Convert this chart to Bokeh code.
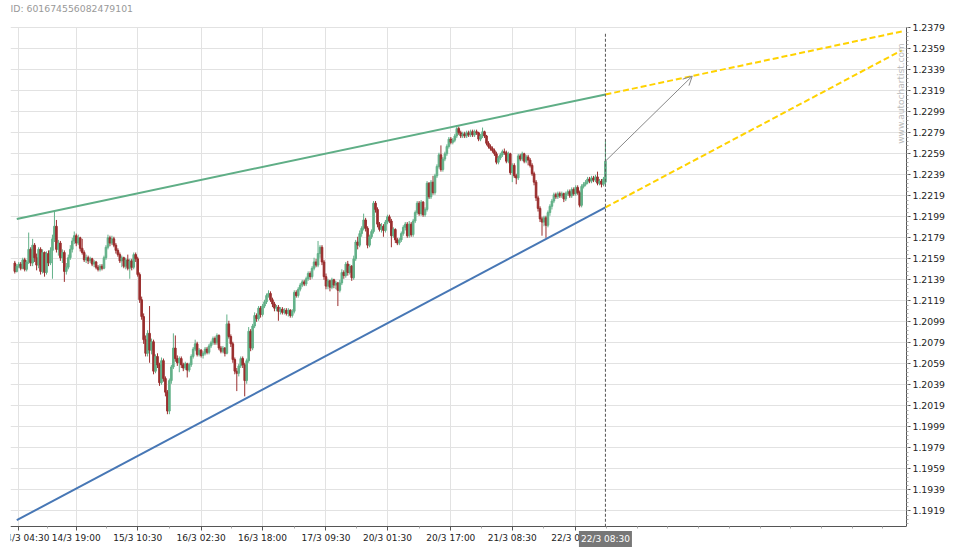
import math
from bokeh.plotting import figure
from bokeh.models import (ColumnDataSource, FixedTicker, Range1d, Label, Arrow,
                          OpenHead, PrintfTickFormatter)
from bokeh.embed import file_html
from bokeh.resources import INLINE

# ---------------- data (30-minute candles, 14/3 03:30 .. 22/3 08:30) ----------------
opens = [
    1.2155, 1.2147, 1.2152, 1.2154, 1.2150, 1.2158, 1.2149, 1.2156, 1.2168, 1.2155,
    1.2172, 1.2160, 1.2153, 1.2168, 1.2147, 1.2165, 1.2146, 1.2164, 1.2155, 1.2167,
    1.2178, 1.2190, 1.2168, 1.2174, 1.2160, 1.2165, 1.2147, 1.2151, 1.2160, 1.2168,
    1.2176, 1.2181, 1.2174, 1.2179, 1.2169, 1.2165, 1.2158, 1.2160, 1.2157, 1.2159,
    1.2154, 1.2156, 1.2151, 1.2149, 1.2152, 1.2150, 1.2160, 1.2170, 1.2179, 1.2174,
    1.2178, 1.2172, 1.2167, 1.2163, 1.2157, 1.2160, 1.2152, 1.2158, 1.2150, 1.2157,
    1.2151, 1.2163, 1.2159, 1.2144, 1.2120, 1.2104, 1.2082, 1.2069, 1.2088, 1.2072,
    1.2080, 1.2052, 1.2066, 1.2058, 1.2041, 1.2062, 1.2045, 1.2032, 1.2014, 1.2043,
    1.2056, 1.2074, 1.2064, 1.2060, 1.2064, 1.2058, 1.2055, 1.2059, 1.2053, 1.2058,
    1.2066, 1.2073, 1.2078, 1.2068, 1.2072, 1.2067, 1.2069, 1.2073, 1.2070, 1.2076,
    1.2079, 1.2083, 1.2079, 1.2086, 1.2074, 1.2071, 1.2074, 1.2069, 1.2097, 1.2085,
    1.2078, 1.2063, 1.2052, 1.2050, 1.2057, 1.2064, 1.2058, 1.2043, 1.2062, 1.2090,
    1.2074, 1.2095, 1.2105, 1.2102, 1.2112, 1.2106, 1.2114, 1.2118, 1.2124, 1.2126,
    1.2120, 1.2116, 1.2112, 1.2113, 1.2109, 1.2111, 1.2108, 1.2110, 1.2107, 1.2110,
    1.2105, 1.2109, 1.2127, 1.2124, 1.2130, 1.2134, 1.2137, 1.2135, 1.2140, 1.2145,
    1.2142, 1.2150, 1.2156, 1.2153, 1.2164, 1.2170, 1.2156, 1.2142, 1.2133, 1.2138,
    1.2132, 1.2139, 1.2134, 1.2136, 1.2129, 1.2136, 1.2146, 1.2143, 1.2154, 1.2146,
    1.2152, 1.2141, 1.2159, 1.2175, 1.2172, 1.2183, 1.2188, 1.2196, 1.2188, 1.2172,
    1.2180, 1.2185, 1.2212, 1.2206, 1.2192, 1.2187, 1.2190, 1.2186, 1.2194, 1.2199,
    1.2195, 1.2181, 1.2187, 1.2177, 1.2174, 1.2177, 1.2183, 1.2189, 1.2192, 1.2181,
    1.2192, 1.2182, 1.2195, 1.2203, 1.2212, 1.2202, 1.2213, 1.2201, 1.2206, 1.2231,
    1.2218, 1.2232, 1.2222, 1.2238, 1.2247, 1.2258, 1.2244, 1.2254, 1.2259, 1.2266,
    1.2273, 1.2270, 1.2272, 1.2276, 1.2283, 1.2279, 1.2276, 1.2278, 1.2276, 1.2279,
    1.2277, 1.2280, 1.2277, 1.2280, 1.2279, 1.2273, 1.2276, 1.2280, 1.2276, 1.2269,
    1.2266, 1.2264, 1.2262, 1.2259, 1.2251, 1.2255, 1.2258, 1.2261, 1.2260, 1.2252,
    1.2259, 1.2241, 1.2248, 1.2238, 1.2236, 1.2257, 1.2254, 1.2259, 1.2252, 1.2256,
    1.2253, 1.2248, 1.2240, 1.2232, 1.2217, 1.2207, 1.2197, 1.2194, 1.2198, 1.2191,
    1.2203, 1.2209, 1.2214, 1.2220, 1.2218, 1.2221, 1.2219, 1.2221, 1.2216, 1.2221,
    1.2223, 1.2219, 1.2225, 1.2221, 1.2227, 1.2222, 1.2210, 1.2228, 1.2230, 1.2232,
    1.2235, 1.2233, 1.2236, 1.2234, 1.2237, 1.2231, 1.2233, 1.2230, 1.2232,
]
highs = [
    1.2157, 1.2154, 1.2156, 1.2156, 1.2160, 1.2160, 1.2158, 1.2184, 1.2170, 1.2178,
    1.2174, 1.2164, 1.2170, 1.2170, 1.2168, 1.2166, 1.2166, 1.2167, 1.2170, 1.2182,
    1.2204, 1.2196, 1.2177, 1.2176, 1.2168, 1.2167, 1.2155, 1.2163, 1.2172, 1.2179,
    1.2185, 1.2183, 1.2182, 1.2180, 1.2178, 1.2167, 1.2163, 1.2162, 1.2161, 1.2160,
    1.2158, 1.2157, 1.2153, 1.2154, 1.2154, 1.2162, 1.2172, 1.2182, 1.2181, 1.2181,
    1.2180, 1.2174, 1.2169, 1.2165, 1.2162, 1.2161, 1.2160, 1.2163, 1.2159, 1.2159,
    1.2165, 1.2165, 1.2161, 1.2146, 1.2123, 1.2107, 1.2086, 1.2091, 1.2114, 1.2083,
    1.2082, 1.2068, 1.2069, 1.2060, 1.2065, 1.2064, 1.2047, 1.2034, 1.2045, 1.2058,
    1.2088, 1.2086, 1.2067, 1.2066, 1.2066, 1.2060, 1.2061, 1.2060, 1.2060, 1.2068,
    1.2075, 1.2082, 1.2080, 1.2074, 1.2073, 1.2071, 1.2075, 1.2075, 1.2078, 1.2081,
    1.2085, 1.2085, 1.2088, 1.2087, 1.2076, 1.2076, 1.2075, 1.2106, 1.2100, 1.2087,
    1.2080, 1.2065, 1.2055, 1.2059, 1.2066, 1.2066, 1.2060, 1.2064, 1.2094, 1.2092,
    1.2097, 1.2108, 1.2107, 1.2114, 1.2114, 1.2116, 1.2120, 1.2126, 1.2129, 1.2128,
    1.2122, 1.2118, 1.2115, 1.2115, 1.2113, 1.2113, 1.2112, 1.2112, 1.2112, 1.2111,
    1.2111, 1.2129, 1.2129, 1.2132, 1.2136, 1.2139, 1.2139, 1.2142, 1.2147, 1.2147,
    1.2152, 1.2160, 1.2159, 1.2176, 1.2172, 1.2172, 1.2158, 1.2145, 1.2140, 1.2139,
    1.2141, 1.2140, 1.2138, 1.2137, 1.2139, 1.2149, 1.2148, 1.2156, 1.2157, 1.2154,
    1.2153, 1.2162, 1.2177, 1.2180, 1.2186, 1.2190, 1.2202, 1.2198, 1.2190, 1.2182,
    1.2187, 1.2214, 1.2214, 1.2208, 1.2194, 1.2193, 1.2192, 1.2196, 1.2201, 1.2201,
    1.2197, 1.2189, 1.2188, 1.2179, 1.2179, 1.2185, 1.2191, 1.2194, 1.2194, 1.2195,
    1.2194, 1.2197, 1.2205, 1.2214, 1.2214, 1.2215, 1.2214, 1.2208, 1.2233, 1.2232,
    1.2234, 1.2238, 1.2240, 1.2249, 1.2260, 1.2267, 1.2256, 1.2261, 1.2268, 1.2275,
    1.2275, 1.2274, 1.2278, 1.2286, 1.2285, 1.2281, 1.2280, 1.2280, 1.2281, 1.2281,
    1.2282, 1.2282, 1.2282, 1.2282, 1.2280, 1.2278, 1.2284, 1.2281, 1.2277, 1.2271,
    1.2268, 1.2266, 1.2264, 1.2261, 1.2257, 1.2260, 1.2263, 1.2264, 1.2262, 1.2261,
    1.2260, 1.2250, 1.2250, 1.2240, 1.2259, 1.2259, 1.2261, 1.2260, 1.2258, 1.2258,
    1.2255, 1.2250, 1.2242, 1.2234, 1.2219, 1.2209, 1.2199, 1.2200, 1.2200, 1.2205,
    1.2211, 1.2216, 1.2222, 1.2222, 1.2223, 1.2223, 1.2223, 1.2222, 1.2223, 1.2225,
    1.2225, 1.2227, 1.2227, 1.2229, 1.2229, 1.2224, 1.2230, 1.2232, 1.2234, 1.2237,
    1.2237, 1.2238, 1.2238, 1.2239, 1.2242, 1.2235, 1.2235, 1.2237, 1.2271,
]
lows = [
    1.2145, 1.2146, 1.2150, 1.2148, 1.2149, 1.2147, 1.2147, 1.2154, 1.2152, 1.2152,
    1.2156, 1.2148, 1.2150, 1.2144, 1.2145, 1.2142, 1.2144, 1.2152, 1.2153, 1.2140,
    1.2175, 1.2165, 1.2162, 1.2157, 1.2155, 1.2137, 1.2144, 1.2149, 1.2158, 1.2165,
    1.2173, 1.2171, 1.2172, 1.2166, 1.2163, 1.2156, 1.2155, 1.2154, 1.2155, 1.2152,
    1.2151, 1.2149, 1.2147, 1.2147, 1.2148, 1.2149, 1.2158, 1.2168, 1.2171, 1.2172,
    1.2170, 1.2164, 1.2161, 1.2155, 1.2151, 1.2150, 1.2149, 1.2148, 1.2140, 1.2148,
    1.2149, 1.2156, 1.2142, 1.2117, 1.2101, 1.2078, 1.2066, 1.2066, 1.2060, 1.2068,
    1.2049, 1.2050, 1.2055, 1.2038, 1.2039, 1.2042, 1.2028, 1.2011, 1.2011, 1.2040,
    1.2054, 1.2061, 1.2057, 1.2051, 1.2055, 1.2052, 1.2053, 1.2046, 1.2051, 1.2056,
    1.2064, 1.2071, 1.2066, 1.2066, 1.2065, 1.2064, 1.2067, 1.2068, 1.2068, 1.2074,
    1.2077, 1.2077, 1.2077, 1.2072, 1.2069, 1.2069, 1.2066, 1.2068, 1.2083, 1.2075,
    1.2060, 1.2049, 1.2033, 1.2047, 1.2055, 1.2055, 1.2028, 1.2040, 1.2060, 1.2071,
    1.2072, 1.2093, 1.2099, 1.2100, 1.2103, 1.2104, 1.2112, 1.2116, 1.2122, 1.2118,
    1.2113, 1.2109, 1.2109, 1.2100, 1.2106, 1.2106, 1.2106, 1.2105, 1.2104, 1.2103,
    1.2103, 1.2107, 1.2122, 1.2122, 1.2128, 1.2132, 1.2133, 1.2133, 1.2138, 1.2139,
    1.2140, 1.2148, 1.2151, 1.2151, 1.2160, 1.2153, 1.2139, 1.2130, 1.2130, 1.2128,
    1.2130, 1.2131, 1.2130, 1.2114, 1.2127, 1.2134, 1.2140, 1.2141, 1.2143, 1.2144,
    1.2138, 1.2139, 1.2157, 1.2168, 1.2170, 1.2180, 1.2186, 1.2185, 1.2169, 1.2170,
    1.2178, 1.2183, 1.2203, 1.2189, 1.2185, 1.2184, 1.2180, 1.2184, 1.2192, 1.2193,
    1.2170, 1.2179, 1.2174, 1.2172, 1.2172, 1.2175, 1.2181, 1.2186, 1.2179, 1.2179,
    1.2180, 1.2180, 1.2193, 1.2201, 1.2200, 1.2200, 1.2199, 1.2199, 1.2204, 1.2216,
    1.2216, 1.2220, 1.2220, 1.2236, 1.2245, 1.2242, 1.2242, 1.2252, 1.2257, 1.2264,
    1.2268, 1.2268, 1.2270, 1.2274, 1.2277, 1.2274, 1.2274, 1.2274, 1.2274, 1.2275,
    1.2275, 1.2275, 1.2275, 1.2277, 1.2271, 1.2271, 1.2274, 1.2274, 1.2267, 1.2264,
    1.2262, 1.2260, 1.2257, 1.2249, 1.2249, 1.2253, 1.2256, 1.2258, 1.2250, 1.2250,
    1.2239, 1.2232, 1.2236, 1.2230, 1.2234, 1.2252, 1.2252, 1.2250, 1.2250, 1.2248,
    1.2246, 1.2238, 1.2229, 1.2214, 1.2204, 1.2194, 1.2181, 1.2190, 1.2179, 1.2189,
    1.2200, 1.2206, 1.2212, 1.2216, 1.2216, 1.2217, 1.2217, 1.2213, 1.2214, 1.2219,
    1.2217, 1.2217, 1.2219, 1.2219, 1.2220, 1.2208, 1.2208, 1.2226, 1.2228, 1.2230,
    1.2231, 1.2231, 1.2232, 1.2232, 1.2229, 1.2229, 1.2227, 1.2228, 1.2228,
]
closes = [
    1.2147, 1.2152, 1.2154, 1.2150, 1.2158, 1.2149, 1.2156, 1.2168, 1.2155, 1.2172,
    1.2160, 1.2153, 1.2168, 1.2147, 1.2165, 1.2146, 1.2164, 1.2155, 1.2167, 1.2178,
    1.2190, 1.2168, 1.2174, 1.2160, 1.2165, 1.2147, 1.2151, 1.2160, 1.2168, 1.2176,
    1.2181, 1.2174, 1.2179, 1.2169, 1.2165, 1.2158, 1.2160, 1.2157, 1.2159, 1.2154,
    1.2156, 1.2151, 1.2149, 1.2152, 1.2150, 1.2160, 1.2170, 1.2179, 1.2174, 1.2178,
    1.2172, 1.2167, 1.2163, 1.2157, 1.2160, 1.2152, 1.2158, 1.2150, 1.2157, 1.2151,
    1.2163, 1.2159, 1.2144, 1.2120, 1.2104, 1.2082, 1.2069, 1.2088, 1.2072, 1.2080,
    1.2052, 1.2066, 1.2058, 1.2041, 1.2062, 1.2045, 1.2032, 1.2014, 1.2043, 1.2056,
    1.2074, 1.2064, 1.2060, 1.2064, 1.2058, 1.2055, 1.2059, 1.2053, 1.2058, 1.2066,
    1.2073, 1.2078, 1.2068, 1.2072, 1.2067, 1.2069, 1.2073, 1.2070, 1.2076, 1.2079,
    1.2083, 1.2079, 1.2086, 1.2074, 1.2071, 1.2074, 1.2069, 1.2097, 1.2085, 1.2078,
    1.2063, 1.2052, 1.2050, 1.2057, 1.2064, 1.2058, 1.2043, 1.2062, 1.2090, 1.2074,
    1.2095, 1.2105, 1.2102, 1.2112, 1.2106, 1.2114, 1.2118, 1.2124, 1.2126, 1.2120,
    1.2116, 1.2112, 1.2113, 1.2109, 1.2111, 1.2108, 1.2110, 1.2107, 1.2110, 1.2105,
    1.2109, 1.2127, 1.2124, 1.2130, 1.2134, 1.2137, 1.2135, 1.2140, 1.2145, 1.2142,
    1.2150, 1.2156, 1.2153, 1.2164, 1.2170, 1.2156, 1.2142, 1.2133, 1.2138, 1.2132,
    1.2139, 1.2134, 1.2136, 1.2129, 1.2136, 1.2146, 1.2143, 1.2154, 1.2146, 1.2152,
    1.2141, 1.2159, 1.2175, 1.2172, 1.2183, 1.2188, 1.2196, 1.2188, 1.2172, 1.2180,
    1.2185, 1.2212, 1.2206, 1.2192, 1.2187, 1.2190, 1.2186, 1.2194, 1.2199, 1.2195,
    1.2181, 1.2187, 1.2177, 1.2174, 1.2177, 1.2183, 1.2189, 1.2192, 1.2181, 1.2192,
    1.2182, 1.2195, 1.2203, 1.2212, 1.2202, 1.2213, 1.2201, 1.2206, 1.2231, 1.2218,
    1.2232, 1.2222, 1.2238, 1.2247, 1.2258, 1.2244, 1.2254, 1.2259, 1.2266, 1.2273,
    1.2270, 1.2272, 1.2276, 1.2283, 1.2279, 1.2276, 1.2278, 1.2276, 1.2279, 1.2277,
    1.2280, 1.2277, 1.2280, 1.2279, 1.2273, 1.2276, 1.2280, 1.2276, 1.2269, 1.2266,
    1.2264, 1.2262, 1.2259, 1.2251, 1.2255, 1.2258, 1.2261, 1.2260, 1.2252, 1.2259,
    1.2241, 1.2248, 1.2238, 1.2236, 1.2257, 1.2254, 1.2259, 1.2252, 1.2256, 1.2253,
    1.2248, 1.2240, 1.2232, 1.2217, 1.2207, 1.2197, 1.2194, 1.2198, 1.2191, 1.2203,
    1.2209, 1.2214, 1.2220, 1.2218, 1.2221, 1.2219, 1.2221, 1.2216, 1.2221, 1.2223,
    1.2219, 1.2225, 1.2221, 1.2227, 1.2222, 1.2210, 1.2228, 1.2230, 1.2232, 1.2235,
    1.2233, 1.2236, 1.2234, 1.2237, 1.2231, 1.2233, 1.2230, 1.2235, 1.2252,
]

# x tick positions (candle index) and their labels
x_tick_positions = [2, 31, 62, 94, 125, 157, 188, 220, 251, 283]
x_tick_labels = ["14/3 04:30", "14/3 19:00", "15/3 10:30", "16/3 02:30", "16/3 18:00",
                 "17/3 09:30", "20/3 01:30", "20/3 17:00", "21/3 08:30", "22/3 00:00"]
last_time_label = "22/3 08:30"

# y tick values
y_tick_values = [1.1919, 1.1939, 1.1959, 1.1979, 1.1999, 1.2019, 1.2039, 1.2059,
                 1.2079, 1.2099, 1.2119, 1.2139, 1.2159, 1.2179, 1.2199, 1.2219,
                 1.2239, 1.2259, 1.2279, 1.2299, 1.2319, 1.2339, 1.2359, 1.2379]

# pattern lines (candle index, price)
resistance_x = [1, 298]
resistance_y = [1.2197, 1.23155]
support_x = [1, 298]
support_y = [1.19101, 1.22079]
resistance_proj_x = [298, 447.5]
resistance_proj_y = [1.23155, 1.23755]
support_proj_x = [298, 447.5]
support_proj_y = [1.22079, 1.23576]
forecast_x = [298, 341.8]
forecast_y = [1.2252, 1.2333]
marker_top = 1.2375

chart_id = "ID: 601674556082479101"
watermark = "www.autochartist.com"

# ---------------- figure ----------------
n = len(closes)
assert len(opens) == n and len(highs) == n and len(lows) == n
idx = list(range(n))
UP = "#63b189"
DOWN = "#9a2e2e"
FONT = "DejaVu Sans"
FS = "9.3px"
FS_X = "9px"

colors = [UP if c >= o else DOWN for o, c in zip(opens, closes)]
src = ColumnDataSource(dict(
    x=idx, high=highs, low=lows,
    top=[max(o, c) for o, c in zip(opens, closes)],
    bottom=[min(o, c) for o, c in zip(opens, closes)],
    color=colors,
))

W, H = 952, 550
# price window of the chart area, and the full range of the canvas frame
AXIS_Y, PLOT_TOP = 1.19038, 1.23793
y_lo, y_hi = 1.18812, 1.24050
x_lo, x_hi = -2.17, 449.9
p = figure(width=W, height=H,
           x_range=Range1d(x_lo, x_hi), y_range=Range1d(y_lo, y_hi),
           output_backend="svg", toolbar_location=None, y_axis_location="right",
           min_border_left=10, min_border_right=46, min_border_top=0, min_border_bottom=0)
p.outline_line_color = None
p.background_fill_color = "white"
p.border_fill_color = "white"

xa = p.xaxis[0]
xa.fixed_location = AXIS_Y
x_minor = [(a + b) / 2 for a, b in zip(x_tick_positions, x_tick_positions[1:])]
x_minor += [x_tick_positions[-1] + 15.5 * k for k in range(1, 11)]
xa.ticker = FixedTicker(ticks=x_tick_positions, minor_ticks=x_minor)
xa.major_label_overrides = {t: lab for t, lab in zip(x_tick_positions, x_tick_labels)}

ya = p.yaxis[0]
ya.bounds = (AXIS_Y, PLOT_TOP)
y_minor = [round(1.1907 + 0.0004 * k, 4) for k in range(0, 119)]
ya.ticker = FixedTicker(ticks=y_tick_values, minor_ticks=y_minor)
ya.formatter = PrintfTickFormatter(format="%.4f")

for ax in (xa, ya):
    ax.axis_line_color = "#555555"
    ax.axis_line_width = 1
    ax.major_tick_line_color = "#555555"
    ax.major_tick_out = 4
    ax.major_tick_in = 0
    ax.minor_tick_line_color = "#aaaaaa"
    ax.minor_tick_out = 2
    ax.minor_tick_in = 0
    ax.major_label_text_font = FONT
    ax.major_label_text_color = "#222222"
    ax.major_label_standoff = 2
xa.major_label_text_font_size = FS_X
ya.major_label_text_font_size = FS

p.xgrid.grid_line_color = "#e2e2e2"
p.ygrid.grid_line_color = "#e2e2e2"
if "cross_bounds" in p.xgrid[0].properties():
    p.xgrid.cross_bounds = (AXIS_Y, PLOT_TOP)

# candles
p.segment(x0="x", y0="high", x1="x", y1="low", line_color="color", line_width=1, source=src)
p.vbar(x="x", width=0.8, top="top", bottom="bottom", fill_color="color",
       line_color="color", line_width=1, source=src)

# channel lines
p.line(resistance_x, resistance_y, line_color="#5fae86", line_width=2)
p.line(support_x, support_y, line_color="#4777b5", line_width=2)
p.line(resistance_proj_x, resistance_proj_y, line_color="#ffd200", line_width=2, line_dash="6 3")
p.line(support_proj_x, support_proj_y, line_color="#ffd200", line_width=2, line_dash="6 3")

# marker at last candle
p.segment(x0=[idx[-1]], y0=[AXIS_Y], x1=[idx[-1]], y1=[marker_top],
          line_color="#555555", line_width=1, line_dash="3 2")

# forecast arrow
p.add_layout(Arrow(end=OpenHead(size=9, line_color="#888888", line_width=1),
                   x_start=forecast_x[0], y_start=forecast_y[0],
                   x_end=forecast_x[1], y_end=forecast_y[1],
                   line_color="#888888", line_width=1))

# texts
p.add_layout(Label(x=x_lo, y=1.2397, text=chart_id, text_font=FONT, text_font_size=FS,
                   text_color="#999999", text_align="left", text_baseline="middle"))
p.add_layout(Label(x=447.1, y=1.22685, text=watermark, angle=math.pi / 2, text_font=FONT,
                   text_font_size="9px", text_color="#bbbbbb", text_align="left",
                   text_baseline="middle"))
p.add_layout(Label(x=idx[-1], y=1.18921, text=last_time_label, text_font=FONT,
                   text_font_size=FS_X, text_color="white", text_align="center",
                   text_baseline="middle", background_fill_color="#777777",
                   padding=(2, 3)))

open("out.html", "w").write(file_html(p, INLINE))
